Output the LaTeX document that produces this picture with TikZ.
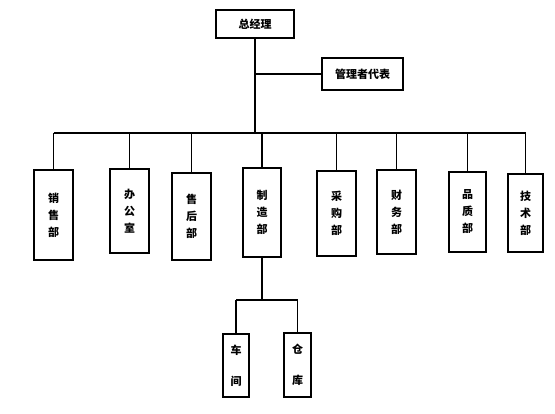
\documentclass[tikz,border=0pt]{standalone}
\usepackage{fontspec}
\newfontfamily\cjk{Noto Sans CJK SC}
\begin{document}
\begin{tikzpicture}[x=1pt,y=1pt,
  box/.style={draw,line width=1.3pt,inner sep=0pt,align=center,font=\cjk\bfseries\fontsize{11}{17}\selectfont},
  conn/.style={line width=1.3pt}]
\useasboundingbox (0,0) rectangle (555,-413);
\node[box,minimum width=78pt,minimum height=28pt] (gm) at (255,-24) {总经理};
\node[box,minimum width=81pt,minimum height=32pt] (rep) at (362.5,-74) {管理者代表};
\node[box,minimum width=39pt,minimum height=90pt] (d1) at (53.5,-215) {销\\售\\部};
\node[box,minimum width=39pt,minimum height=84pt] (d2) at (129.5,-211) {办\\公\\室};
\node[box,minimum width=39pt,minimum height=87pt] (d3) at (191.5,-216.5) {售\\后\\部};
\node[box,minimum width=38pt,minimum height=89pt] (d4) at (262,-212.5) {制\\造\\部};
\node[box,minimum width=39pt,minimum height=85pt] (d5) at (336.5,-213.5) {采\\购\\部};
\node[box,minimum width=39pt,minimum height=84pt] (d6) at (396.5,-212) {财\\务\\部};
\node[box,minimum width=37pt,minimum height=80pt] (d7) at (467.5,-212) {品\\质\\部};
\node[box,minimum width=35pt,minimum height=78pt] (d8) at (525.5,-213) {技\\术\\部};
\node[box,minimum width=26pt,minimum height=63pt,font=\cjk\bfseries\fontsize{11}{31}\selectfont] (s1) at (236,-365.5) {车\\间};
\node[box,minimum width=27pt,minimum height=64pt,font=\cjk\bfseries\fontsize{11}{31}\selectfont] (s2) at (297.5,-365) {仓\\库};
\coordinate (bus) at (0,-133);
\coordinate (sub) at (0,-300);
\draw[conn] (gm.south) -- (gm.south |- bus);
\draw[conn] (rep.west) -- (rep.west -| gm.south);
\draw[conn] (d1.north |- bus) -- (d8.north |- bus);
\foreach \n in {d1,d2,d3,d4,d5,d6,d7,d8} {\draw[conn] (\n.north) -- (\n.north |- bus);}
\draw[conn] (d4.south) -- (d4.south |- sub);
\draw[conn] (s1.north |- sub) -- (s2.north |- sub);
\draw[conn] (s1.north) -- (s1.north |- sub);
\draw[conn] (s2.north) -- (s2.north |- sub);
\end{tikzpicture}
\end{document}
